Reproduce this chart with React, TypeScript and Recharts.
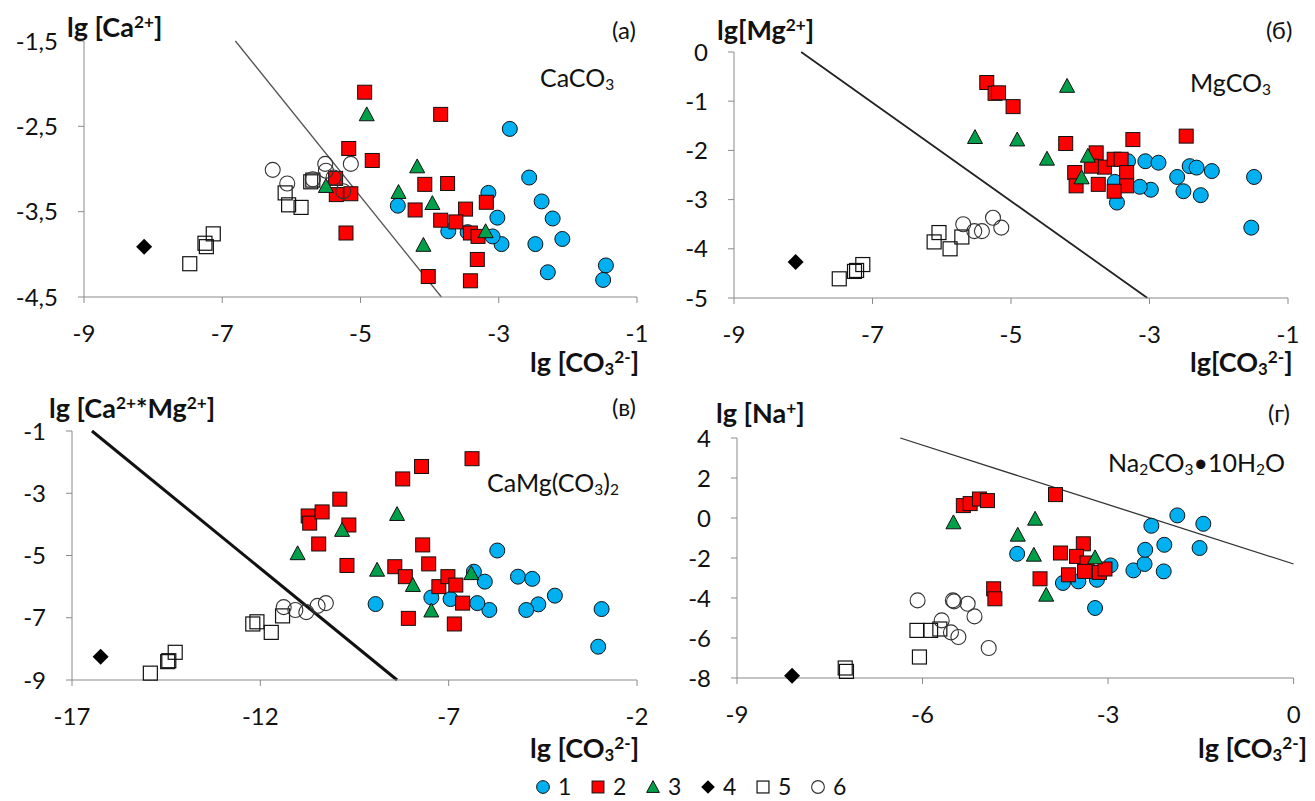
import React from "react";
import { ReferenceLine, Scatter, ScatterChart, XAxis, YAxis } from "recharts";

// x = lg[CO3 2-], y = lg of the cation; series 1..6 as in the legend
const caBlue = [[-2.84,-2.53],[-2.56,-3.1],[-2.38,-3.38],[-2.22,-3.58],[-2.08,-3.82],[-2.47,-3.88],[-2.29,-4.21],[-1.45,-4.13],[-1.49,-4.3],[-3.02,-3.57],[-2.96,-3.88],[-3.15,-3.28],[-4.46,-3.43],[-3.73,-3.73],[-3.45,-3.74],[-3.09,-3.79]];
const caRed = [[-4.94,-2.1],[-3.84,-2.36],[-5.17,-2.76],[-4.83,-2.9],[-5.36,-3.11],[-5.35,-3.3],[-5.14,-3.29],[-5.21,-3.75],[-4.07,-3.18],[-3.74,-3.17],[-4.21,-3.48],[-3.48,-3.47],[-3.84,-3.6],[-3.62,-3.62],[-3.41,-3.75],[-3.3,-3.79],[-3.18,-3.39],[-3.31,-4.06],[-4.02,-4.26],[-3.41,-4.31]];
const caGreen = [[-4.91,-2.36],[-5.5,-3.2],[-4.18,-2.97],[-4.45,-3.27],[-3.96,-3.4],[-4.09,-3.89],[-3.19,-3.73]];
const caBlack = [[-8.13,-3.91]];
const caOpenSq = [[-7.13,-3.76],[-7.23,-3.91],[-7.25,-3.87],[-7.47,-4.11],[-6.09,-3.28],[-6.04,-3.42],[-5.86,-3.45],[-5.72,-3.15],[-5.69,-3.13]];
const caOpenCi = [[-6.27,-3.01],[-6.06,-3.17],[-5.69,-3.12],[-5.51,-2.94],[-5.5,-3.02],[-5.14,-2.94],[-5.39,-3.1],[-5.25,-3.26]];

const mgBlue = [[-3.31,-2.22],[-3.06,-2.22],[-2.87,-2.25],[-2.42,-2.32],[-2.32,-2.35],[-2.1,-2.42],[-2.6,-2.54],[-2.51,-2.83],[-2.26,-2.91],[-2.98,-2.8],[-3.14,-2.74],[-3.5,-2.64],[-3.47,-3.06],[-1.49,-2.54],[-1.53,-3.57]];
const mgRed = [[-5.35,-0.62],[-5.23,-0.84],[-5.18,-0.83],[-4.97,-1.11],[-4.21,-1.86],[-3.24,-1.78],[-2.47,-1.71],[-3.77,-2.05],[-4.08,-2.45],[-4.06,-2.72],[-3.74,-2.69],[-3.65,-2.34],[-3.51,-2.18],[-3.41,-2.18],[-3.33,-2.45],[-3.33,-2.72],[-3.51,-2.83],[-3.84,-2.32]];
const mgGreen = [[-5.52,-1.73],[-4.91,-1.78],[-4.19,-0.69],[-4.48,-2.17],[-3.89,-2.11],[-3.98,-2.55]];
const mgBlack = [[-8.11,-4.27]];
const mgOpenSq = [[-7.14,-4.32],[-7.23,-4.44],[-7.26,-4.46],[-7.48,-4.61],[-6.04,-3.67],[-6.11,-3.86],[-5.88,-4.0],[-5.71,-3.76]];
const mgOpenCi = [[-5.69,-3.5],[-5.53,-3.64],[-5.42,-3.64],[-5.26,-3.37],[-5.14,-3.57]];

const camgBlue = [[-8.94,-6.56],[-5.71,-4.84],[-6.33,-5.52],[-6.04,-5.84],[-5.16,-5.68],[-4.78,-5.75],[-4.18,-6.29],[-4.62,-6.57],[-4.94,-6.75],[-5.92,-6.75],[-6.24,-6.53],[-6.95,-6.4],[-7.46,-6.35],[-2.94,-6.72],[-3.03,-7.93]];
const camgRed = [[-9.89,-3.19],[-10.73,-3.73],[-10.69,-3.96],[-10.36,-3.6],[-9.65,-4.02],[-10.45,-4.63],[-9.7,-5.32],[-6.38,-1.89],[-7.72,-2.14],[-8.22,-2.54],[-7.69,-4.66],[-7.53,-5.27],[-8.43,-5.36],[-8.15,-5.68],[-7.26,-6.0],[-7.02,-5.68],[-6.81,-5.95],[-6.63,-6.53],[-8.07,-7.02],[-6.85,-7.2]];
const camgGreen = [[-11.01,-4.93],[-9.83,-4.18],[-8.9,-5.46],[-8.37,-3.67],[-7.95,-5.95],[-6.4,-5.57],[-7.46,-6.77]];
const camgBlack = [[-16.24,-8.25]];
const camgOpenSq = [[-14.92,-8.78],[-14.46,-8.41],[-14.43,-8.38],[-14.26,-8.11],[-12.2,-7.2],[-12.09,-7.13],[-11.71,-7.47],[-11.41,-6.94]];
const camgOpenCi = [[-11.38,-6.66],[-11.07,-6.75],[-10.78,-6.82],[-10.48,-6.62],[-10.26,-6.53]];

const naBlue = [[-4.47,-1.79],[-3.73,-3.25],[-3.48,-3.17],[-3.18,-3.09],[-2.96,-2.37],[-3.21,-4.5],[-2.59,-2.62],[-2.41,-2.3],[-2.4,-1.59],[-2.3,-0.39],[-2.09,-1.34],[-2.1,-2.67],[-1.88,0.13],[-1.46,-0.29],[-1.52,-1.5]];
const naRed = [[-5.34,0.62],[-5.23,0.72],[-5.08,0.95],[-4.95,0.87],[-3.85,1.17],[-4.85,-3.54],[-4.83,-4.04],[-3.77,-1.75],[-3.4,-1.29],[-3.51,-1.92],[-3.34,-2.25],[-3.38,-2.67],[-3.14,-2.72],[-3.05,-2.55],[-3.64,-2.84],[-4.1,-3.04]];
const naGreen = [[-5.5,-0.22],[-4.46,-0.84],[-4.18,-0.04],[-4.2,-1.84],[-4.0,-3.84],[-3.21,-1.97]];
const naBlack = [[-8.11,-7.89]];
const naOpenSq = [[-7.25,-7.5],[-7.23,-7.67],[-6.05,-6.95],[-6.09,-5.62],[-5.87,-5.62],[-5.72,-5.55]];
const naOpenCi = [[-6.08,-4.12],[-5.51,-4.12],[-5.49,-4.17],[-5.27,-4.29],[-5.16,-4.92],[-5.69,-5.12],[-5.54,-5.72],[-5.42,-5.95],[-4.93,-6.5]];

// solubility lines, [x, y] end points
const caLine = [[-6.81, -1.5], [-3.83, -4.5]];
const mgLine = [[-8.03, 0], [-3.03, -5]];
const camgLine = [[-16.47, -1], [-8.37, -9]];
const naLine = [[-6.36, 4], [0, -2.3]];

const caXTicks = [-9, -7, -5, -3, -1];
const caYTicks = [-1.5, -2.5, -3.5, -4.5];
const mgXTicks = [-9, -7, -5, -3, -1];
const mgYTicks = [0, -1, -2, -3, -4, -5];
const camgXTicks = [-17, -12, -7, -2];
const camgYTicks = [-1, -3, -5, -7, -9];
const naXTicks = [-9, -6, -3, 0];
const naYTicks = [4, 2, 0, -2, -4, -6, -8];

const legendLabels = ["1", "2", "3", "4", "5", "6"];

const BLUE = "#00b0f0";
const RED = "#ff0000";
const GREEN = "#00a04a";
const AXIS = "#8a8a8a";
const FONT = "Lato, 'Open Sans', sans-serif";

function Marker({ kind, cx, cy, s = 1 }: { kind: number; cx: number; cy: number; s?: number }) {
  if (cx == null || cy == null) return null;
  if (kind === 0) return <circle cx={cx} cy={cy} r={7.5 * s} fill={BLUE} stroke="#111" strokeWidth={1} />;
  if (kind === 1) {
    const h = 7 * s;
    return <rect x={cx - h} y={cy - h} width={2 * h} height={2 * h} fill={RED} stroke="#111" strokeWidth={1} />;
  }
  if (kind === 2) {
    const h = 7.5 * s;
    return (
      <polygon
        points={`${cx},${cy - h} ${cx + h},${cy + h * 0.85} ${cx - h},${cy + h * 0.85}`}
        fill={GREEN}
        stroke="#111"
        strokeWidth={1}
      />
    );
  }
  if (kind === 3) {
    const h = 8 * s;
    return <polygon points={`${cx},${cy - h} ${cx + h},${cy} ${cx},${cy + h} ${cx - h},${cy}`} fill="#000" />;
  }
  if (kind === 4) {
    const h = 7 * s;
    return <rect x={cx - h} y={cy - h} width={2 * h} height={2 * h} fill="none" stroke="#111" strokeWidth={1.2} />;
  }
  return <circle cx={cx} cy={cy} r={7.5 * s} fill="none" stroke="#333" strokeWidth={1.1} />;
}

const toPts = (arr: number[][]) => arr.map(([x, y]) => ({ x, y }));
const fmt = (v: number) => String(v).replace(".", ",");

interface PanelProps {
  left: number;
  top: number;
  w: number;
  h: number;
  xTicks: number[];
  yTicks: number[];
  series: number[][][];
  line: number[][];
  lineWidth: number;
  lineColor: string;
}

function Panel({ left, top, w, h, xTicks, yTicks, series, line, lineWidth, lineColor }: PanelProps) {
  const ML = 90;
  const MT = 30;
  const MR = 24;
  const MB = 60;
  const tick = { fontSize: 24, fill: "#111", fontFamily: FONT };
  return (
    <div style={{ position: "absolute", left: left - ML, top: top - MT }}>
      <ScatterChart width={w + ML + MR} height={h + MT + MB} margin={{ top: MT, right: MR, bottom: 0, left: 0 }}>
        <XAxis
          type="number"
          dataKey="x"
          domain={[xTicks[0], xTicks[xTicks.length - 1]]}
          ticks={xTicks}
          interval={0}
          height={MB}
          stroke={AXIS}
          tickSize={6}
          tickMargin={22}
          tick={tick}
          tickFormatter={fmt}
        />
        <YAxis
          type="number"
          dataKey="y"
          domain={[yTicks[yTicks.length - 1], yTicks[0]]}
          ticks={yTicks}
          interval={0}
          width={ML}
          stroke={AXIS}
          tickSize={6}
          tickMargin={20}
          tick={tick}
          tickFormatter={fmt}
        />
        <ReferenceLine
          segment={[
            { x: line[0][0], y: line[0][1] },
            { x: line[1][0], y: line[1][1] },
          ]}
          stroke={lineColor}
          strokeWidth={lineWidth}
        />
        {series.map((s, i) => (
          <Scatter
            key={i}
            data={toPts(s)}
            isAnimationActive={false}
            shape={(p: any) => <Marker kind={i} cx={p.cx} cy={p.cy} />}
          />
        ))}
      </ScatterChart>
    </div>
  );
}

function Txt({ left, cy, size = 24, bold = false, children }: any) {
  return (
    <div
      style={{
        position: "absolute",
        left,
        top: cy - size * 0.6,
        fontSize: size,
        lineHeight: 1.2,
        fontWeight: bold ? 700 : 400,
        whiteSpace: "nowrap",
        color: "#111",
        fontFamily: FONT,
      }}
    >
      {children}
    </div>
  );
}

const sup = (t: string) => <sup style={{ fontSize: "0.64em", verticalAlign: "0.55em", lineHeight: 0 }}>{t}</sup>;
const sub = (t: string) => <sub style={{ fontSize: "0.62em", verticalAlign: "-0.2em", lineHeight: 0 }}>{t}</sub>;

export default function App() {
  return (
    <div style={{ position: "absolute", left: 0, top: 0, width: 1315, height: 801, background: "#fff", fontFamily: FONT, overflow: "hidden" }}>
      <Panel left={84} top={41.3} w={553} h={256} xTicks={caXTicks} yTicks={caYTicks}
        series={[caBlue, caRed, caGreen, caBlack, caOpenSq, caOpenCi]} line={caLine} lineWidth={1.3} lineColor="#555" />
      <Panel left={734} top={51.5} w={554} h={246} xTicks={mgXTicks} yTicks={mgYTicks}
        series={[mgBlue, mgRed, mgGreen, mgBlack, mgOpenSq, mgOpenCi]} line={mgLine} lineWidth={1.8} lineColor="#222" />
      <Panel left={71.7} top={431} w={565} h={249} xTicks={camgXTicks} yTicks={camgYTicks}
        series={[camgBlue, camgRed, camgGreen, camgBlack, camgOpenSq, camgOpenCi]} line={camgLine} lineWidth={3} lineColor="#111" />
      <Panel left={736.7} top={438.3} w={556.6} h={240} xTicks={naXTicks} yTicks={naYTicks}
        series={[naBlue, naRed, naGreen, naBlack, naOpenSq, naOpenCi]} line={naLine} lineWidth={1.3} lineColor="#333" />

      <Txt left={67} cy={27} size={27} bold>lg [Ca{sup("2+")}]</Txt>
      <Txt left={612} cy={30}>(а)</Txt>
      <Txt left={540} cy={77} size={25}>CaCO{sub("3")}</Txt>
      <Txt left={530} cy={362} size={27} bold>lg [CO{sub("3")}{sup("2-")}]</Txt>

      <Txt left={717} cy={30} size={27} bold>lg[Mg{sup("2+")}]</Txt>
      <Txt left={1266} cy={30}>(б)</Txt>
      <Txt left={1190} cy={82} size={25}>MgCO{sub("3")}</Txt>
      <Txt left={1190} cy={362} size={27} bold>lg[CO{sub("3")}{sup("2-")}]</Txt>

      <Txt left={49} cy={408} size={27} bold>lg [Ca{sup("2+")}*Mg{sup("2+")}]</Txt>
      <Txt left={612} cy={407}>(в)</Txt>
      <Txt left={487} cy={482} size={25}>CaMg(CO{sub("3")}){sub("2")}</Txt>
      <Txt left={530} cy={748} size={27} bold>lg [CO{sub("3")}{sup("2-")}]</Txt>

      <Txt left={716} cy={413} size={27} bold>lg [Na{sup("+")}]</Txt>
      <Txt left={1268} cy={413}>(г)</Txt>
      <Txt left={1108} cy={462} size={25}>Na{sub("2")}CO{sub("3")}•10H{sub("2")}O</Txt>
      <Txt left={1198} cy={748} size={27} bold>lg [CO{sub("3")}{sup("2-")}]</Txt>

      <svg style={{ position: "absolute", left: 0, top: 766 }} width={1315} height={35}>
        {legendLabels.map((t, i) => {
          const x = 543 + i * 55;
          return (
            <g key={t}>
              <Marker kind={i} cx={x} cy={21} s={0.85} />
              <text x={x + 15} y={29} fontSize={23} fill="#111" fontFamily={FONT}>
                {t}
              </text>
            </g>
          );
        })}
      </svg>
    </div>
  );
}
